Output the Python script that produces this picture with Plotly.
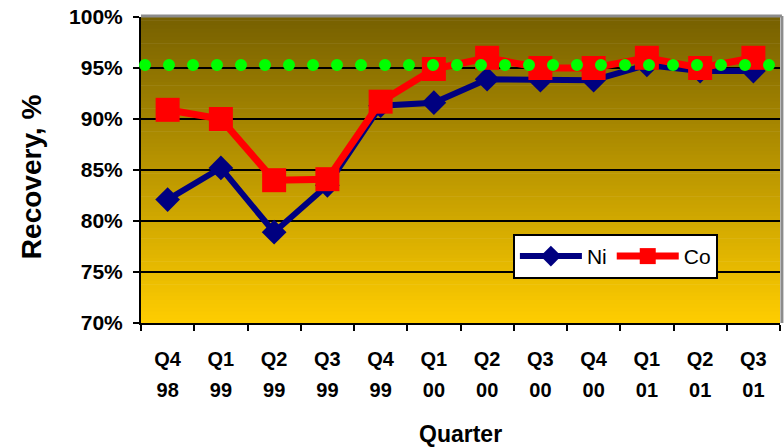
import plotly.graph_objects as go

# Quarterly recovery data
quarters = ["Q4", "Q1", "Q2", "Q3", "Q4", "Q1", "Q2", "Q3", "Q4", "Q1", "Q2", "Q3"]
years = ["98", "99", "99", "99", "99", "00", "00", "00", "00", "01", "01", "01"]
categories = [f"{q} {y}" for q, y in zip(quarters, years)]

ni_recovery = [0.821, 0.852, 0.789, 0.835, 0.913, 0.916, 0.939, 0.938, 0.938, 0.953, 0.947, 0.947]
co_recovery = [0.909, 0.900, 0.840, 0.841, 0.917, 0.949, 0.960, 0.950, 0.950, 0.960, 0.950, 0.960]
target_recovery = 0.953

y_ticks = [0.70, 0.75, 0.80, 0.85, 0.90, 0.95, 1.00]

FONT = "Arial, 'Liberation Sans', sans-serif"

fig = go.Figure()

fig.add_trace(go.Scatter(
    x=categories, y=ni_recovery, name="Ni", mode="lines+markers",
    line=dict(color="#000080", width=6),
    marker=dict(symbol="diamond", size=19, color="#000080"),
))
fig.add_trace(go.Scatter(
    x=categories, y=co_recovery, name="Co", mode="lines+markers",
    line=dict(color="#FF0000", width=7),
    marker=dict(symbol="square", size=24, color="#FF0000"),
))

# vertical olive-to-gold background gradient as thin bands
shapes = []
n_bands = 80
top_rgb = (118, 96, 0)
bot_rgb = (255, 205, 0)
for i in range(n_bands):
    t = (i + 0.5) / n_bands
    r, g, b = [round(bot_rgb[k] + (top_rgb[k] - bot_rgb[k]) * t) for k in range(3)]
    shapes.append(dict(type="rect", xref="paper", yref="paper",
                       x0=0, x1=1, y0=i / n_bands, y1=(i + 1) / n_bands + 0.002,
                       fillcolor=f"rgb({r},{g},{b})", line=dict(width=0), layer="below"))

# target level as a row of round green dots
shapes.append(dict(type="line", xref="paper", yref="y", x0=4 / 639, x1=1,
                   y0=target_recovery, y1=target_recovery,
                   line=dict(color="#00FF00", width=12, dash="0px,24px"), layer="above"))

# grey frame on top and right
shapes.append(dict(type="line", xref="paper", yref="paper", x0=0, x1=1.003, y0=1.003, y1=1.003,
                   line=dict(color="#8c8c8c", width=3), layer="above"))
shapes.append(dict(type="line", xref="paper", yref="paper", x0=1.003, x1=1.003, y0=0, y1=1.003,
                   line=dict(color="#8c8c8c", width=3), layer="above"))

fig.update_layout(
    width=784, height=447,
    margin=dict(l=141, r=4, t=17, b=124),
    paper_bgcolor="white",
    plot_bgcolor="rgba(0,0,0,0)",
    font=dict(family=FONT, color="black"),
    shapes=shapes,
    showlegend=True,
    legend=dict(
        orientation="h", x=0.582, y=0.291, xanchor="left", yanchor="top",
        bgcolor="white", bordercolor="black", borderwidth=2,
        font=dict(family=FONT, size=21, color="black"),
        itemwidth=62, tracegroupgap=0,
    ),
    xaxis=dict(
        type="category", categoryorder="array", categoryarray=categories,
        range=[-0.5, len(categories) - 0.5],
        tickmode="array", tickvals=categories, ticktext=quarters,
        tickson="boundaries", ticks="outside", ticklen=6, tickwidth=2, tickcolor="black",
        showline=True, linecolor="black", linewidth=2,
        showgrid=False, zeroline=False,
        tickfont=dict(family=FONT, size=20, weight="bold", color="black"),
        ticklabelstandoff=17,
    ),
    xaxis2=dict(
        overlaying="x", side="bottom", anchor="y",
        range=[-0.5, len(categories) - 0.5],
        tickmode="array", tickvals=list(range(len(years))), ticktext=years,
        ticks="", showline=False, showgrid=False, zeroline=False,
        tickfont=dict(family=FONT, size=20, weight="bold", color="black"),
        ticklabelstandoff=53,
    ),
    yaxis=dict(
        range=[0.70, 1.00], tickmode="array", tickvals=y_ticks, tickformat=".0%",
        ticks="outside", ticklen=6, tickwidth=2, tickcolor="black",
        showline=True, linecolor="black", linewidth=2,
        showgrid=True, gridcolor="black", gridwidth=1.5, zeroline=False,
        tickfont=dict(family=FONT, size=21, weight="bold", color="black"),
        ticklabelstandoff=6,
    ),
    annotations=[
        dict(text="Recovery, %", xref="paper", yref="paper", x=-0.172, y=0.477,
             xanchor="center", yanchor="middle", textangle=-90, showarrow=False,
             font=dict(family=FONT, size=28, weight="bold", color="black")),
        dict(text="Quarter", xref="paper", yref="paper", x=0.5, y=-0.362,
             xanchor="center", yanchor="middle", showarrow=False,
             font=dict(family=FONT, size=23, weight="bold", color="black")),
    ],
)

# a dummy trace keeps the overlay axis with the year labels active
fig.add_trace(go.Scatter(x=[0], y=[None], xaxis="x2", showlegend=False, hoverinfo="skip"))

round_caps = """
var gd = document.querySelector('.plotly-graph-div');
function roundDots() {
  gd.querySelectorAll('.shapelayer path').forEach(function (p) {
    if ((p.style.strokeDasharray || '').indexOf('24') >= 0) {
      p.style.strokeLinecap = 'round';
    }
  });
}
roundDots();
gd.on('plotly_afterplot', roundDots);
"""

fig.write_html("out.html", post_script=round_caps)
